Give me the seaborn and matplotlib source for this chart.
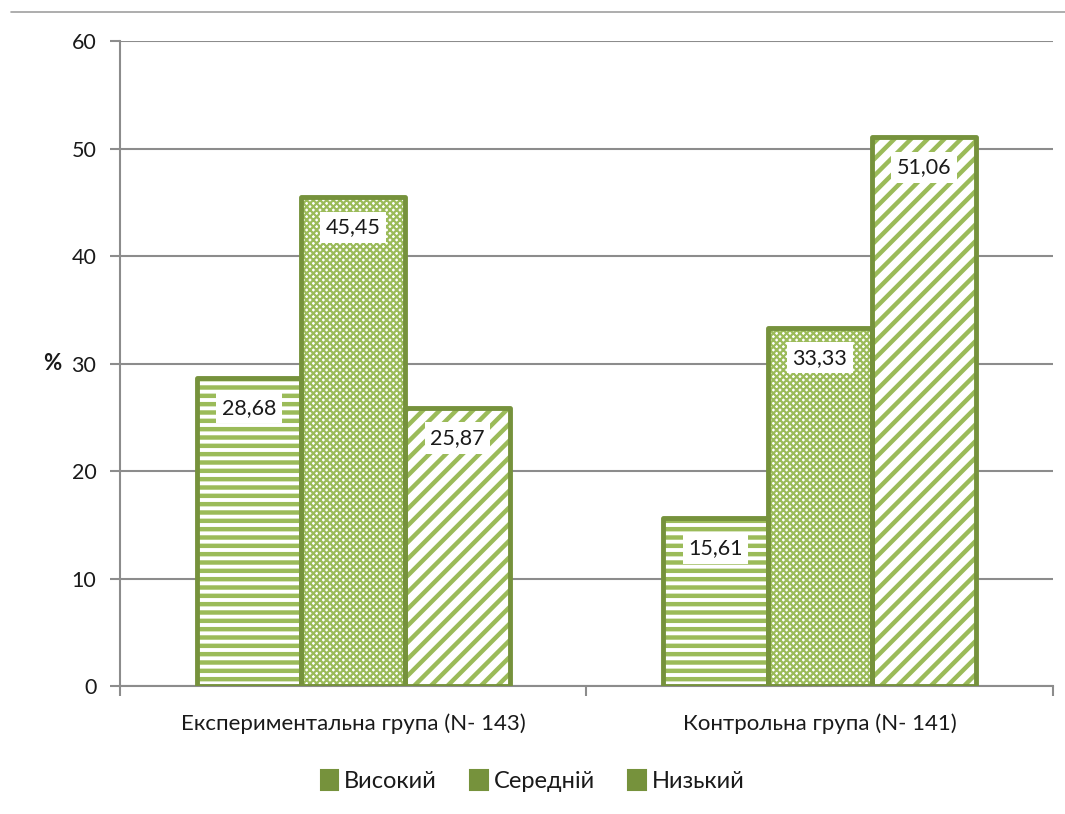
import numpy as np
import pandas as pd
import seaborn as sns
import matplotlib.pyplot as plt
from matplotlib.patches import Patch
from matplotlib.lines import Line2D

groups = ["Експериментальна група (N- 143)", "Контрольна група (N- 141)"]
levels = ["Високий", "Середній", "Низький"]
values = {
    "Високий": [28.68, 15.61],
    "Середній": [45.45, 33.33],
    "Низький": [25.87, 51.06],
}
hatches = ["--", "xxxxx", "//"]

rows = []
for lev in levels:
    for g, v in zip(groups, values[lev]):
        rows.append({"group": g, "level": lev, "value": v})
df = pd.DataFrame(rows)

sns.set_theme(style="white")
plt.rcParams["font.family"] = ["Lato", "DejaVu Sans"]
plt.rcParams["hatch.linewidth"] = 3.0

light = "#9BBB59"
dark = "#76923C"
grey = "#8C8C8C"
txt = "#1a1a1a"

fig = plt.figure(figsize=(10.65, 8.14), dpi=100)
ax = fig.add_axes([0.1127, 0.1572, 0.876, 0.7924])

sns.barplot(data=df, x="group", y="value", hue="level", order=groups,
            hue_order=levels, width=0.67, color=light, ax=ax, legend=False,
            errorbar=None)

# patterned fill + dark outline
bars = ax.patches[:len(groups) * len(levels)]
for i, b in enumerate(bars):
    k = i // len(groups)
    b.set_facecolor("white")
    b.set_edgecolor(light)
    b.set_hatch(hatches[k])
    if hasattr(b, "set_hatch_linewidth"):
        b.set_hatch_linewidth([3.2, 1.6, 3.2][k])
    b.set_linewidth(0)
    x, w, h = b.get_x(), b.get_width(), b.get_height()
    ax.add_patch(plt.Rectangle((x, 0), w, h, fill=False, edgecolor=dark,
                               linewidth=3.5, zorder=3, joinstyle="round"))
    ax.text(x + w / 2, h - 2.8, f"{h:.2f}".replace(".", ","), ha="center",
            va="center", fontsize=15.5, color=txt, zorder=4,
            bbox=dict(facecolor="white", edgecolor="none", pad=4))

ax.set_ylim(0, 60)
ax.set_xlim(-0.5, 1.5)
ax.set_yticks(range(0, 61, 10))
ax.yaxis.grid(True, color=grey, linewidth=1.5)
ax.set_axisbelow(True)
for s in ["top", "right"]:
    ax.spines[s].set_visible(False)
for s in ["left", "bottom"]:
    ax.spines[s].set_color(grey)
    ax.spines[s].set_linewidth(1.5)

ax.tick_params(axis="y", left=True, length=7, width=1.5, color=grey,
               labelsize=15.5, pad=10, labelcolor=txt)
ax.tick_params(axis="x", bottom=False, labelsize=16, pad=14,
               labelcolor=txt)
ax.set_xticks([0, 1])
ax.set_xticklabels(groups)
ax.set_xticks([-0.5, 0.5, 1.5], minor=True)
ax.tick_params(axis="x", which="minor", bottom=True, length=7, width=1.5,
               color=grey)
ax.set_xlabel("")
ax.set_ylabel("%", rotation=0, fontsize=16, fontweight="bold",
              labelpad=14, va="center", color=txt)

handles = [Patch(facecolor=dark, edgecolor=dark, linewidth=1.5,
                 label=lev) for lev in levels]
fig.legend(handles=handles, loc="center", bbox_to_anchor=(0.5, 0.04),
           ncol=3, frameon=False, fontsize=17, handlelength=0.75,
           handleheight=0.9, handletextpad=0.25, columnspacing=1.4,
           labelcolor=txt)

fig.add_artist(Line2D([0.01, 1.0], [1 - 12 / 814, 1 - 12 / 814],
                      color="#A0A0A0", linewidth=1.2))

fig.savefig("out.png", dpi=100)
